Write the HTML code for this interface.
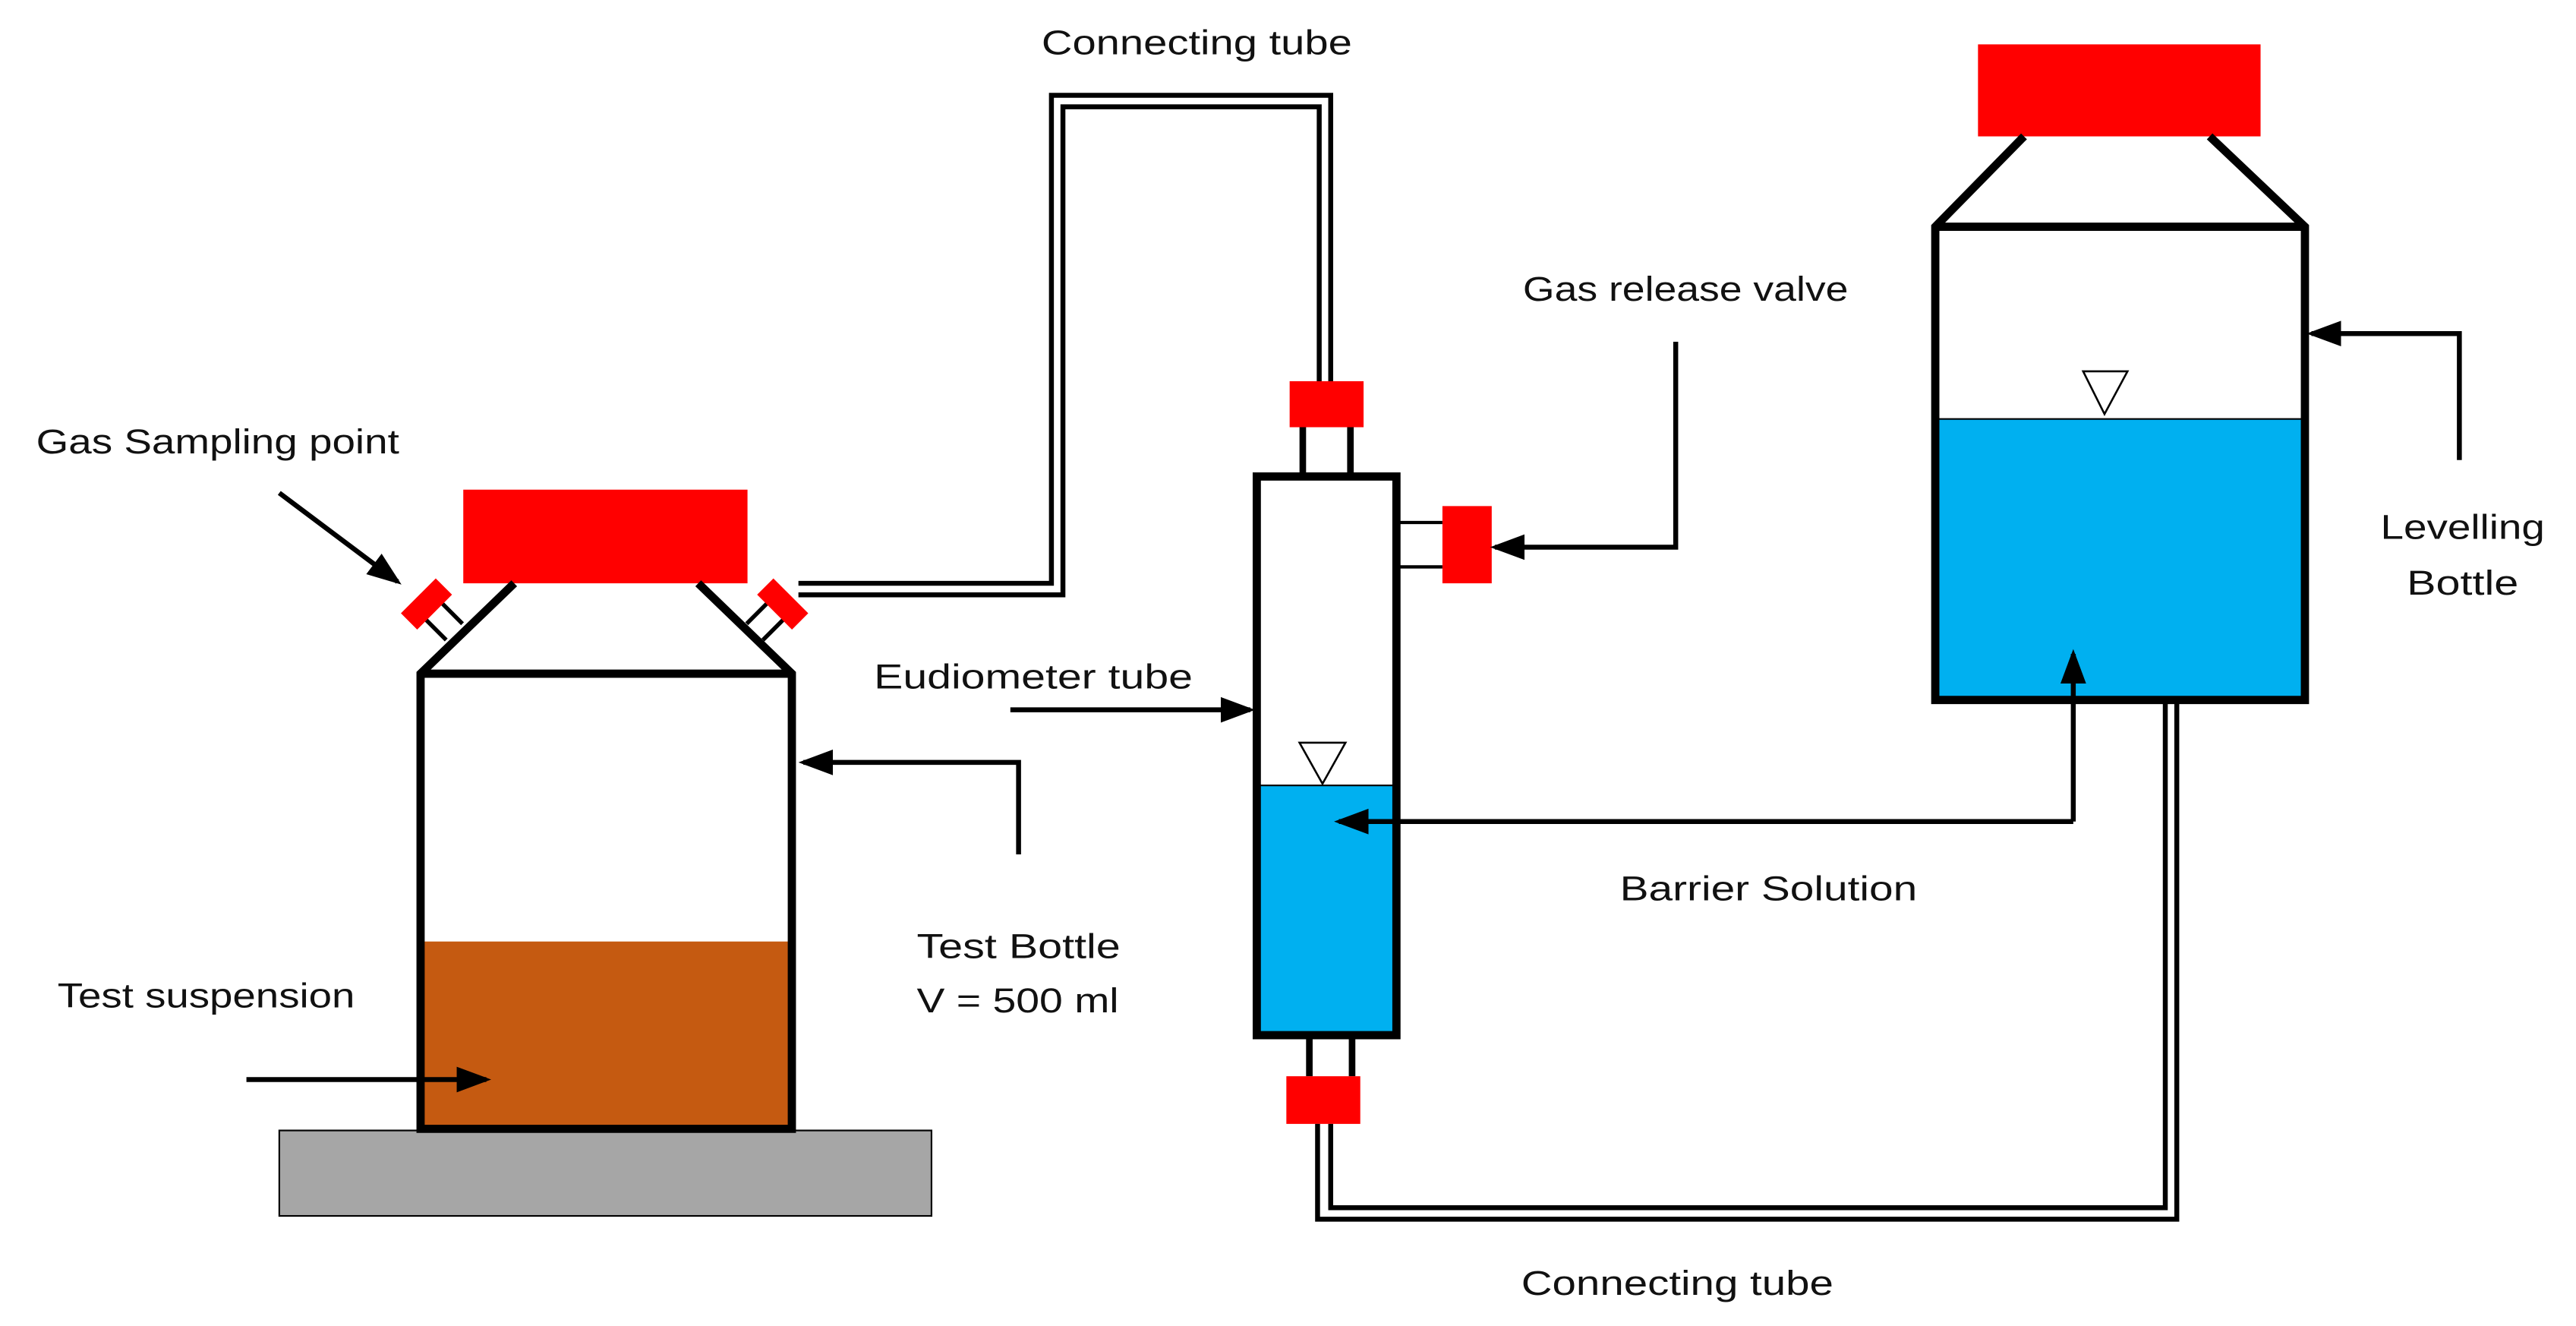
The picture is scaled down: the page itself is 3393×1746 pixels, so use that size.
<!DOCTYPE html>
<html><head><meta charset="utf-8"><style>
html,body{margin:0;padding:0;background:#fff;}
svg{display:block;}
text{font-family:"Liberation Sans",sans-serif;font-size:21px;fill:#111;}
</style></head><body>
<svg width="3393" height="1746" viewBox="0 0 1568 807" preserveAspectRatio="none" xmlns="http://www.w3.org/2000/svg">
<defs>
<marker id="ah" markerWidth="7" markerHeight="6" refX="6" refY="3" orient="auto" markerUnits="strokeWidth"><path d="M0,0.4 L7,3 L0,5.6 Z" fill="#000"/></marker>
</defs>
<rect width="1568" height="807" fill="#fff"/>

<!-- Test bottle -->
<rect x="170" y="688" width="397" height="52" fill="#a6a6a6" stroke="#000" stroke-width="1"/>
<rect x="257" y="573" width="224" height="114" fill="#c55a11"/>
<rect x="282" y="298" width="173" height="57" fill="#ff0000"/>
<path d="M313,355 L256,410 L256,687 L482,687 L482,410 L425,355 M256,410 L482,410" fill="none" stroke="#000" stroke-width="5"/>
<!-- valves -->
<g transform="translate(261,369) rotate(-45)"><line x1="-7" y1="0" x2="-7" y2="22" stroke="#000" stroke-width="2.5"/><line x1="7" y1="0" x2="7" y2="22" stroke="#000" stroke-width="2.5"/><rect x="-15" y="-9" width="30" height="14" fill="#f00"/></g>
<g transform="translate(475,369) rotate(45)"><line x1="-7" y1="0" x2="-7" y2="22" stroke="#000" stroke-width="2.5"/><line x1="7" y1="0" x2="7" y2="22" stroke="#000" stroke-width="2.5"/><rect x="-15" y="-9" width="30" height="14" fill="#f00"/></g>

<!-- connecting tube top -->
<path d="M486,355 L640,355 L640,58 L810,58 L810,232" fill="none" stroke="#000" stroke-width="3"/>
<path d="M486,362 L647,362 L647,65 L803,65 L803,232" fill="none" stroke="#000" stroke-width="3"/>

<!-- Eudiometer -->
<rect x="785" y="232" width="45" height="28" fill="#f00"/>
<line x1="793" y1="260" x2="793" y2="288" stroke="#000" stroke-width="4"/>
<line x1="822" y1="260" x2="822" y2="288" stroke="#000" stroke-width="4"/>
<rect x="765" y="478" width="85" height="152" fill="#00b0f0"/>
<rect x="765" y="290" width="85" height="340" fill="none" stroke="#000" stroke-width="5"/>
<line x1="765" y1="478" x2="850" y2="478" stroke="#000" stroke-width="1"/>
<path d="M791,452 L819,452 L805,477 Z" fill="#fff" stroke="#000" stroke-width="1.2"/>
<line x1="850" y1="318" x2="878" y2="318" stroke="#000" stroke-width="2"/>
<line x1="850" y1="345" x2="878" y2="345" stroke="#000" stroke-width="2"/>
<rect x="878" y="308" width="30" height="47" fill="#f00"/>
<line x1="797" y1="630" x2="797" y2="655" stroke="#000" stroke-width="4"/>
<line x1="823" y1="630" x2="823" y2="655" stroke="#000" stroke-width="4"/>
<rect x="783" y="655" width="45" height="29" fill="#f00"/>

<!-- connecting tube bottom -->
<path d="M802,684 L802,742 L1325,742 L1325,428" fill="none" stroke="#000" stroke-width="3"/>
<path d="M810,684 L810,735 L1318,735 L1318,428" fill="none" stroke="#000" stroke-width="3"/>

<!-- Levelling bottle -->
<rect x="1204" y="27" width="172" height="56" fill="#f00"/>
<rect x="1178" y="255" width="225" height="172" fill="#00b0f0"/>
<path d="M1232,83 L1178,138 L1178,426 L1403,426 L1403,138 L1345,83 M1178,138 L1403,138" fill="none" stroke="#000" stroke-width="5"/>
<line x1="1178" y1="255" x2="1403" y2="255" stroke="#000" stroke-width="1"/>
<path d="M1268,226 L1295,226 L1281,252 Z" fill="#fff" stroke="#000" stroke-width="1.2"/>

<!-- arrows -->
<g fill="none" stroke="#000" stroke-width="3" marker-end="url(#ah)">
<path d="M170,300 L242,354"/>
<path d="M150,657 L296,657"/>
<path d="M620,520 L620,464 L489,464"/>
<path d="M615,432 L761,432"/>
<path d="M1020,208 L1020,333 L910,333"/>
<path d="M1262,500 L815,500"/>
<path d="M1262,500 L1262,398"/>
<path d="M1497,280 L1497,203 L1407,203"/>
</g>

<!-- labels -->
<text x="22" y="276" textLength="221" lengthAdjust="spacingAndGlyphs">Gas Sampling point</text>
<text x="35" y="613" textLength="181" lengthAdjust="spacingAndGlyphs">Test suspension</text>
<text x="558" y="583" textLength="124" lengthAdjust="spacingAndGlyphs">Test Bottle</text>
<text x="558" y="616" textLength="123" lengthAdjust="spacingAndGlyphs">V = 500 ml</text>
<text x="634" y="33" textLength="189" lengthAdjust="spacingAndGlyphs">Connecting tube</text>
<text x="532" y="419" textLength="194" lengthAdjust="spacingAndGlyphs">Eudiometer tube</text>
<text x="927" y="183" textLength="198" lengthAdjust="spacingAndGlyphs">Gas release valve</text>
<text x="986" y="548" textLength="181" lengthAdjust="spacingAndGlyphs">Barrier Solution</text>
<text x="926" y="788" textLength="190" lengthAdjust="spacingAndGlyphs">Connecting tube</text>
<text x="1449" y="328" textLength="100" lengthAdjust="spacingAndGlyphs">Levelling</text>
<text x="1465" y="362" textLength="68" lengthAdjust="spacingAndGlyphs">Bottle</text>
</svg>
</body></html>
